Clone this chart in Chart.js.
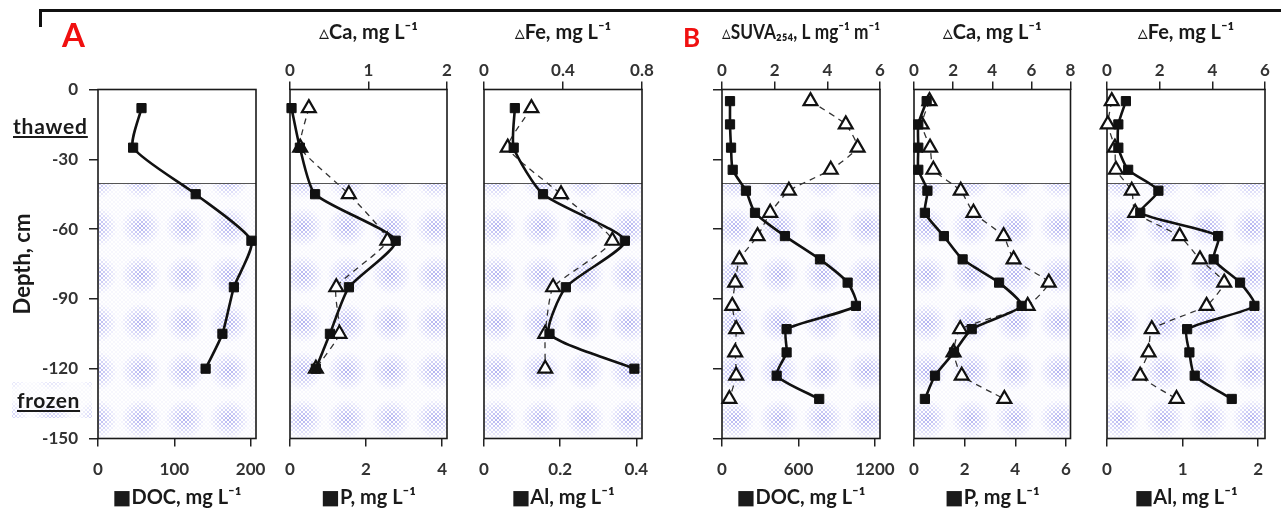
<!DOCTYPE html>
<html>
<head>
<meta charset="utf-8">
<script src="https://cdn.jsdelivr.net/npm/chart.js@4.4.1/dist/chart.umd.min.js"></script>
<style>
  body { margin: 0; background: #fff; }
  #wrap { position: relative; width: 1281px; height: 512px; overflow: hidden; font-family: Lato, 'DejaVu Sans', sans-serif; }
  #wrap canvas { position: absolute; left: 0; top: 0; }
  .lbl { position: absolute; font-weight: bold; white-space: nowrap; line-height: 1.2; }
  .hline { position: absolute; left: 40px; top: 9px; width: 1241px; border-top: 3px solid #111; }
  .vline { position: absolute; left: 39px; top: 9px; height: 18px; border-left: 3px solid #111; }
</style>
</head>
<body>
<div id="wrap">
  <div class="hline"></div>
  <div class="vline"></div>
</div>
<script>
// --- data (depth in cm, concentrations) ---
const depthA = [-8, -25, -45, -65, -85, -105, -120];
const docA = [57, 46, 128, 201, 178, 163, 141];
const pA   = [0.04, 0.26, 0.66, 2.78, 1.55, 1.05, 0.68];
const caA  = [0.24, 0.13, 0.75, 1.24, 0.59, 0.63, 0.33];
const alA  = [0.081, 0.078, 0.155, 0.37, 0.215, 0.172, 0.395];
const feA  = [0.24, 0.12, 0.39, 0.65, 0.35, 0.31, 0.31];

const depthB = [-5, -15, -25, -34.5, -43.5, -53, -63, -73, -83, -93, -103, -113, -123, -133];
const docB  = [63, 63, 71, 84, 188, 259, 494, 769, 986, 1051, 507, 507, 429, 763];
const suvaB = [3.36, 4.70, 5.15, 4.13, 2.54, 1.83, 1.35, 0.66, 0.50, 0.39, 0.54, 0.50, 0.54, 0.28];
const pB    = [0.50, 0.17, 0.17, 0.17, 0.53, 0.43, 1.18, 1.92, 3.36, 4.25, 2.28, 1.58, 0.83, 0.43];
const caB   = [0.79, 0.39, 0.82, 0.99, 2.39, 3.04, 4.58, 5.09, 6.89, 5.81, 2.36, 2.02, 2.44, 4.62];
const alB   = [0.25, 0.15, 0.15, 0.28, 0.68, 0.44, 1.47, 1.41, 1.76, 1.95, 1.06, 1.09, 1.16, 1.65];
const feB   = [0.18, 0.03, 0.30, 0.34, 0.94, 1.07, 2.76, 3.53, 4.45, 3.78, 1.70, 1.58, 1.26, 2.64];

// thawed / frozen boundary
const boundaryDepth = -40;

// tick labels
const depthTicks = [0, -30, -60, -90, -120, -150];
const ticksDocA = [0, 100, 200];
const ticksP_A  = [0, 2, 4];
const ticksCa_A = [0, 1, 2];
const ticksAl_A = [0, 0.2, 0.4];
const ticksFe_A = [0, 0.4, 0.8];
const ticksDocB = [0, 600, 1200];
const ticksSuva = [0, 2, 4, 6];
const ticksP_B  = [0, 2, 4, 6];
const ticksCa_B = [0, 2, 4, 6, 8];
const ticksAl_B = [0, 1, 2];
const ticksFe_B = [0, 2, 4, 6];

const W = 1281, H = 512;
const plotTop = 89.5, plotBottom = 438.5;
const FONT = "Lato, 'DejaVu Sans', sans-serif";
const tickFont = { family: FONT, size: 17, weight: 'bold' };
const titleFont = { family: FONT, size: 20, weight: 'bold' };

// panel layout (pixel boxes of each plot area)
const panels = [
  { left: 98, right: 256, yMode: 'labels', depth: depthA, ox: -23, oy: -28,
    bottom: { title: '■DOC, mg L⁻¹', max: 207, ticks: ticksDocA, values: docA }, top: null,
    extra: [[12, 382, 80, 36]] },
  { left: 290, right: 447, yMode: 'none', depth: depthA, ox: -9, oy: -28,
    bottom: { title: '■P, mg L⁻¹', max: 4.13, ticks: ticksP_A, values: pA },
    top: { title: '▵Ca, mg L⁻¹', max: 2, ticks: ticksCa_A, values: caA } },
  { left: 484, right: 642, yMode: 'none', depth: depthA, ox: -9, oy: -28,
    bottom: { title: '■Al, mg L⁻¹', max: 0.415, ticks: ticksAl_A, values: alA },
    top: { title: '▵Fe, mg L⁻¹', max: 0.8, ticks: ticksFe_A, values: feA } },
  { left: 722, right: 880, yMode: 'ticks', depth: depthB, ox: -9, oy: -28,
    bottom: { title: '■DOC, mg L⁻¹', max: 1240, ticks: ticksDocB, values: docB },
    top: { title: '▵SUVA₂₅₄, L mg⁻¹ m⁻¹', max: 6, ticks: ticksSuva, values: suvaB } },
  { left: 914, right: 1070.5, yMode: 'none', depth: depthB, ox: -9, oy: -28,
    bottom: { title: '■P, mg L⁻¹', max: 6.18, ticks: ticksP_B, values: pB },
    top: { title: '▵Ca, mg L⁻¹', max: 8, ticks: ticksCa_B, values: caB } },
  { left: 1107, right: 1265, yMode: 'none', depth: depthB, ox: -9, oy: -28,
    bottom: { title: '■Al, mg L⁻¹', max: 2.09, ticks: ticksAl_B, values: alB },
    top: { title: '▵Fe, mg L⁻¹', max: 6, ticks: ticksFe_B, values: feB } }
];

// halftone tile for the frozen layer
const TW = 44, TH = 48;
const tile = document.createElement('canvas');
tile.width = TW; tile.height = TH;
(function () {
  const g = tile.getContext('2d');
  for (let y = 0; y < TH; y += 2) {
    for (let x = ((y / 2) % 2) ? 2 : 0; x < TW; x += 4) {
      const d = Math.hypot(x + 1 - TW / 2, y + 1 - TH / 2);
      const a = 0.05 + 0.45 * Math.max(0, 1 - d / 20);
      g.fillStyle = 'rgba(95,95,225,' + a.toFixed(3) + ')';
      g.fillRect(x, y, 2, 2);
    }
  }
})();

const frozenBg = {
  id: 'frozenBg',
  beforeDatasetsDraw(chart, args, o) {
    const { ctx, chartArea: a } = chart;
    const yb = Math.round(chart.scales.y.getPixelForValue(boundaryDepth));
    const pat = ctx.createPattern(tile, 'repeat');
    pat.setTransform(new DOMMatrix([1, 0, 0, 1, a.left + o.ox, yb + o.oy]));
    ctx.save();
    ctx.fillStyle = pat;
    ctx.fillRect(a.left, yb, a.right - a.left, a.bottom - yb);
    ctx.globalAlpha = 0.7;
    (o.extra || []).forEach(r => ctx.fillRect(r[0], r[1], r[2], r[3]));
    ctx.globalAlpha = 1;
    ctx.strokeStyle = '#555';
    ctx.lineWidth = 1;
    ctx.beginPath();
    ctx.moveTo(a.left, yb + 0.5);
    ctx.lineTo(a.right, yb + 0.5);
    ctx.stroke();
    ctx.strokeStyle = '#1a1a1a';
    ctx.lineWidth = 1.6;
    ctx.strokeRect(a.left, a.top, a.right - a.left, a.bottom - a.top);
    ctx.restore();
  }
};

function xAxis(spec, pos) {
  return {
    type: 'linear', position: pos, min: 0, max: spec.max,
    afterBuildTicks: s => { s.ticks = spec.ticks.map(v => ({ value: v })); },
    afterFit: s => { s.height = pos === 'top' ? plotTop : H - plotBottom; },
    ticks: { padding: pos === 'top' ? 1 : 13, maxRotation: 0, autoSkip: false, color: '#333', font: tickFont,
             callback: v => String(v) },
    grid: { drawOnChartArea: false, drawTicks: true, tickLength: 8, color: '#222', lineWidth: 1.5 },
    border: { display: false },
    title: { display: true, text: spec.title, color: '#1a1a1a', font: titleFont,
             padding: pos === 'top' ? { top: 21, bottom: 0 } : { top: 0, bottom: 2 } }
  };
}

function yAxis(mode) {
  const yW = mode === 'labels' ? 98 : (mode === 'ticks' ? 22 : 0);
  return {
    type: 'linear', min: -150, max: 0, display: mode !== 'none',
    afterBuildTicks: s => { s.ticks = depthTicks.map(v => ({ value: v })); },
    afterFit: s => { s.width = yW; },
    ticks: { display: mode === 'labels', padding: 11, color: '#333', font: tickFont, callback: v => String(v) },
    grid: { drawOnChartArea: false, drawTicks: true, tickLength: 9, color: '#222', lineWidth: 1.5 },
    border: { display: false },
    title: { display: mode === 'labels', text: 'Depth, cm', color: '#1a1a1a',
             font: { family: FONT, size: 22, weight: 'bold' }, padding: { top: 10, bottom: 0 } }
  };
}

function squareSet(depth, vals) {
  return {
    data: depth.map((d, i) => ({ x: vals[i], y: d })), xAxisID: 'x', yAxisID: 'y',
    borderColor: '#111', borderWidth: 2.6, tension: 0.2, fill: false,
    pointStyle: 'rect', pointRadius: 6.5, pointBackgroundColor: '#111', pointBorderColor: '#111',
    pointBorderWidth: 1, order: 0, clip: false
  };
}

function triSet(depth, vals) {
  return {
    data: depth.map((d, i) => ({ x: vals[i], y: d })), xAxisID: 'xt', yAxisID: 'y',
    borderColor: '#333', borderWidth: 1.3, borderDash: [6, 5], tension: 0.15, fill: false,
    pointStyle: 'triangle', pointRadius: 8, pointBackgroundColor: '#fff', pointBorderColor: '#111',
    pointBorderWidth: 2.2, order: 1, clip: false
  };
}

const wrap = document.getElementById('wrap');

panels.forEach(p => {
  const cv = document.createElement('canvas');
  cv.width = W; cv.height = H;
  wrap.appendChild(cv);

  const scales = { x: xAxis(p.bottom, 'bottom'), y: yAxis(p.yMode) };
  const datasets = [squareSet(p.depth, p.bottom.values)];
  if (p.top) {
    scales.xt = xAxis(p.top, 'top');
    datasets.push(triSet(p.depth, p.top.values));
  }
  const yW = p.yMode === 'labels' ? 98 : (p.yMode === 'ticks' ? 22 : 0);

  new Chart(cv.getContext('2d'), {
    type: 'line',
    data: { datasets: datasets },
    options: {
      responsive: false,
      animation: false,
      layout: { padding: { left: p.left - yW, right: W - p.right, top: p.top ? 0 : plotTop, bottom: 0 } },
      scales: scales,
      plugins: {
        legend: { display: false },
        tooltip: { enabled: false },
        frozenBg: { ox: p.ox, oy: p.oy, extra: p.extra }
      }
    },
    plugins: [frozenBg]
  });
});

// free labels
function addLabel(text, x, base, size, color, extra) {
  const d = document.createElement('div');
  d.className = 'lbl';
  d.textContent = text;
  d.style.left = x + 'px';
  d.style.top = (base - 0.987 * size) + 'px';
  d.style.fontSize = size + 'px';
  d.style.color = color;
  Object.assign(d.style, extra || {});
  wrap.appendChild(d);
}
addLabel('A', 62, 48, 33, '#f01010');
addLabel('B', 683, 48, 26, '#f01010');
addLabel('thawed', 13, 134, 21, '#1a1a1a', { textDecoration: 'underline', letterSpacing: '0.8px' });
addLabel('frozen', 17, 408, 21, '#1a1a1a', { textDecoration: 'underline', letterSpacing: '0.6px' });
</script>
</body>
</html>
